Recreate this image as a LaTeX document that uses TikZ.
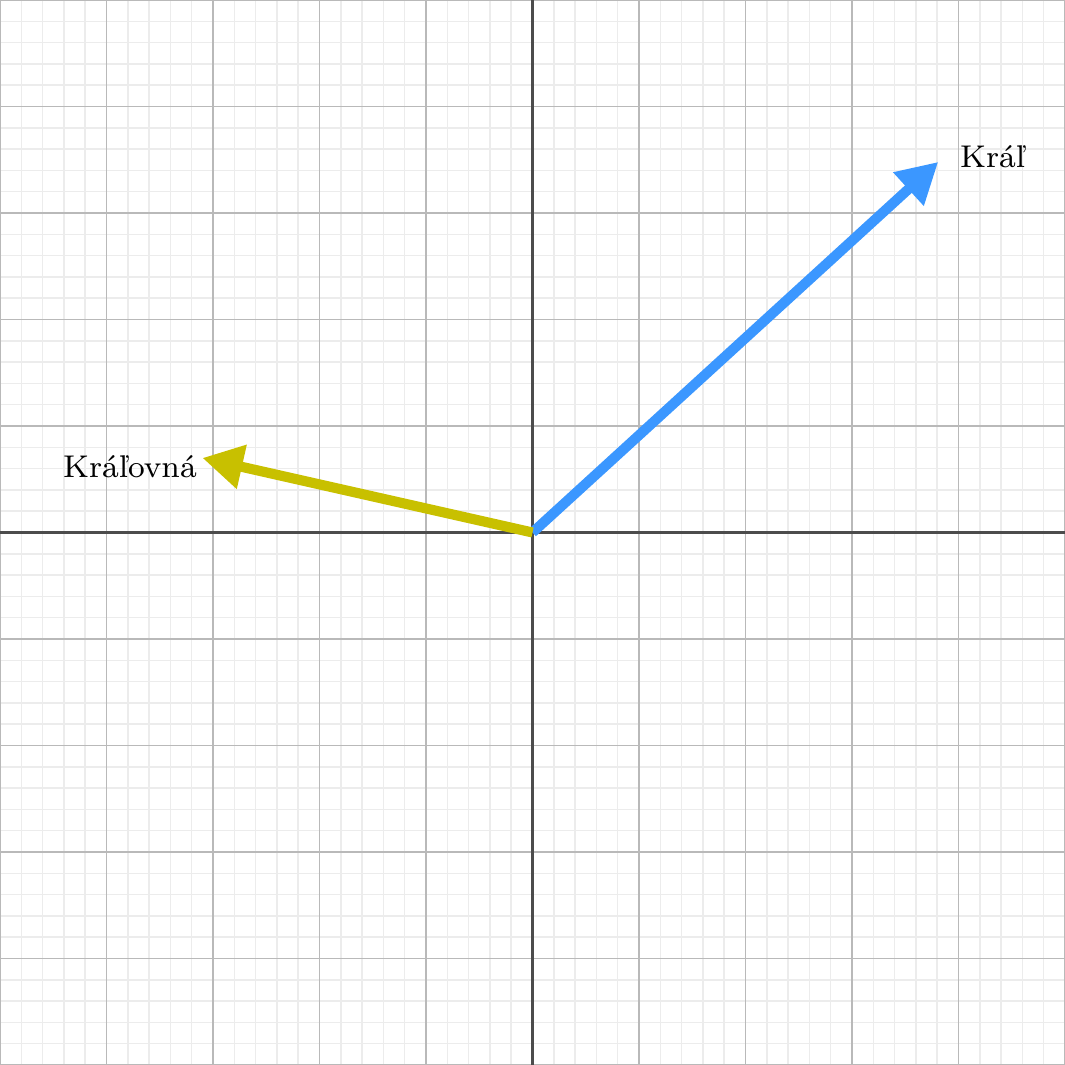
\documentclass[tikz,border=0pt]{standalone}
\usepackage{tikz}
\usetikzlibrary{arrows.meta}
\definecolor{kingblue}{RGB}{59,151,255}
\definecolor{queenyellow}{RGB}{200,192,0}

\begin{document}
\begin{tikzpicture}[minor/.style={gray!15, line width=0.4pt}, major/.style={gray!55, line width=0.45pt}, axis/.style={black!70, line width=0.6pt}, vec/.style={line width=2.7pt, -{Triangle[length=3.8mm, width=4mm]}}, lbl/.style={font=\fontsize{8.4}{10}\selectfont, inner sep=0pt}]
\useasboundingbox (-5,-5) rectangle (5,5);
\draw[minor] (-5,-5) grid[step=0.2] (5,5);
\draw[major] (-5,-5) grid[step=1] (5,5);
\draw[axis] (-5,0) -- (5,0);
\draw[axis] (0,-5) -- (0,5);
\coordinate (O) at (0,0);
\coordinate (kral) at (3.81,3.48);
\coordinate (kralovna) at (-3.1,0.7);
\draw[vec, kingblue] (O) -- (kral);
\draw[vec, queenyellow] (O) -- (kralovna);
\node[lbl] (kralLabel) at (4.32,3.53) {Kráľ};
\node[lbl] (kralovnaLabel) at (-3.78,0.62) {Kráľovná};
\end{tikzpicture}
\end{document}
